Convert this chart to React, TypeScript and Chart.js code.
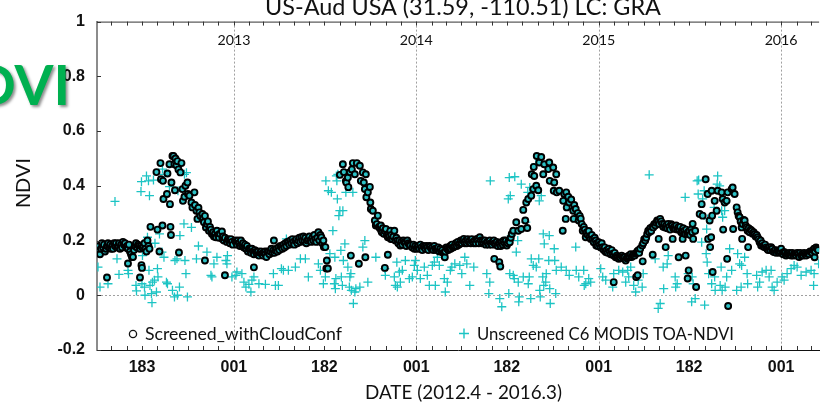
import React, { useEffect, useRef } from "react";
import { Chart, registerables } from "chart.js";

Chart.register(...registerables);

// x values: days since 2012-01-01 ; y values: NDVI
const xMin = 92;
const xMax = 1537;

const titleText = "US-Aud USA (31.59, -110.51) LC: GRA";
const xTitle = "DATE (2012.4 - 2016.3)";
const yTitle = "NDVI";
const legendScreened = "Screened_withCloudConf";
const legendUnscreened = "Unscreened C6 MODIS TOA-NDVI";

const xLabelDays = [182, 366, 547, 731, 912, 1096, 1277, 1461];
const xTickLabels = ["183", "001", "182", "001", "182", "001", "182", "001"];
const yearDays = [366, 731, 1096, 1461];
const yearLabels = ["2013", "2014", "2015", "2016"];
const yTicks = [-0.2, 0, 0.2, 0.4, 0.6, 0.8, 1];

const screened2012: number[][] = [
  [94,.16],[96,.18],[98,.15],[100,.17],[102,.19],[104,.175],[106,.185],[108,.16],[110,.17],[112,.18],[112,.065],[114,.19],[116,.175],[118,.185],[120,.17],[122,.18],[124,.17],[126,.19],[128,.18],[130,.19],[132,.175],[134,.18],[136,.19],[138,.17],[140,.185],[142,.175],[144,.195],[146,.185],[148,.19],[150,.175],[152,.18],[154,.17],[154,.116],[156,.185],[158,.16],[160,.15],[162,.14],[164,.14],[166,.165],[168,.18],[170,.19],[172,.175],[174,.185],[176,.18],[178,.17],[178,.065],[180,.18],[181,.11],[182,.1],[183,.175],[185,.18],[187,.19],[189,.17],[191,.16],[193,.2],[195,.18],[197,.17],[199,.25],[211,.45],[213,.24],[217,.16],[219,.483],[220,.424],[223,.255],[224,.418],[225,.352],[233,.445],[232,.37],[237,.479],[238,.333],[239,.25],[240,.22],[241,.412],[243,.509],[245,.509],[247,.479],[248,.384],[249,.5],[251,.475],[253,.49],[255,.46],[256,.156],[259,.449],[261,.483],[263,.388],[264,.345],[267,.36],[269,.4],[273,.412],[274,.37],[277,.364],[281,.339],[283,.321],[287,.376],[288,.33],[291,.309],[293,.279],[295,.32],[297,.303],[299,.29],[303,.297],[304,.28],[306,.267],[308,.29],[308,.127],[310,.248],[312,.26],[314,.27],[316,.236],[318,.25],[320,.24],[322,.224],[324,.23],[326,.215],[328,.225],[330,.212],[332,.236],[334,.22],[336,.21],[338,.225],[342,.233],[343,.206],[344,.215],[346,.2],[348,.21],[348,.073],[352,.195],[354,.205],[356,.2],[358,.19],[360,.205],[362,.195],[364,.185]
];

const screened2013: number[][] = [
  [368,.2],[370,.194],[372,.185],[374,.2],[376,.19],[378,.18],[380,.2],[382,.182],[384,.19],[386,.175],[388,.185],[390,.17],[392,.18],[394,.16],[396,.17],[398,.165],[400,.155],[402,.17],[404,.16],[406,.15],[406,.102],[408,.165],[410,.158],[412,.15],[414,.16],[416,.145],[418,.155],[420,.16],[422,.152],[424,.145],[426,.155],[428,.16],[429,.15],[431,.14],[433,.16],[435,.158],[437,.15],[439,.16],[441,.17],[443,.155],[445,.165],[446,.2],[447,.155],[449,.164],[451,.17],[453,.16],[455,.175],[457,.165],[459,.18],[461,.176],[463,.17],[465,.185],[467,.175],[469,.19],[471,.18],[473,.195],[475,.194],[477,.185],[479,.2],[481,.19],[483,.205],[485,.195],[487,.185],[489,.2],[491,.205],[493,.19],[495,.2],[497,.21],[499,.195],[501,.212],[503,.2],[505,.215],[507,.2],[509,.21],[511,.19],[513,.2],[515,.206],[517,.215],[519,.2],[521,.195],[523,.21],[525,.2],[527,.22],[529,.205],[531,.195],[533,.21],[535,.23],[537,.2],[539,.22],[541,.212],[543,.19],[545,.2],[546,.176],[549,.176],[551,.098],[552,.127],[554,.098],[578,.44],[584,.479],[586,.45],[590,.418],[591,.412],[594,.43],[595,.395],[598,.45],[600,.145],[602,.46],[604,.483],[608,.442],[612,.483],[616,.115],[618,.473],[620,.418],[624,.449],[626,.412],[628,.388],[629,.139],[630,.442],[631,.358],[634,.376],[638,.396],[639,.339],[640,.315],[644,.309],[648,.273],[650,.255],[652,.26],[654,.291],[656,.25],[658,.245],[660,.255],[661,.236],[662,.23],[664,.245],[666,.225],[668,.235],[668,.1],[670,.242],[672,.22],[674,.212],[674,.148],[676,.225],[677,.215],[679,.236],[680,.206],[681,.22],[683,.205],[685,.215],[687,.236],[689,.2],[691,.21],[693,.2],[695,.19],[697,.2],[699,.182],[701,.195],[703,.185],[705,.2],[707,.194],[709,.19],[711,.18],[713,.2],[715,.19],[717,.185],[719,.182],[723,.175],[725,.185],[727,.17],[729,.18]
];

const screened2014: number[][] = [
  [731,.17],[733,.176],[735,.18],[737,.17],[739,.185],[741,.175],[743,.165],[745,.18],[747,.176],[749,.17],[751,.18],[753,.175],[755,.165],[757,.18],[759,.178],[761,.17],[763,.175],[765,.165],[767,.18],[769,.17],[771,.165],[773,.17],[775,.175],[777,.16],[779,.17],[781,.16],[783,.165],[785,.155],[787,.152],[788,.139],[789,.16],[791,.175],[793,.17],[795,.165],[797,.17],[799,.18],[800,.17],[802,.185],[804,.175],[806,.176],[808,.18],[810,.19],[812,.18],[814,.195],[816,.185],[818,.19],[820,.2],[822,.19],[824,.2],[826,.206],[828,.19],[830,.2],[832,.19],[834,.205],[836,.195],[838,.2],[840,.19],[842,.205],[844,.195],[846,.19],[848,.2],[850,.19],[852,.206],[854,.2],[856,.19],[858,.212],[860,.2],[862,.19],[864,.2],[866,.19],[868,.2],[870,.185],[872,.194],[874,.195],[876,.185],[878,.2],[880,.19],[882,.185],[884,.195],[886,.2],[887,.133],[888,.19],[890,.185],[892,.195],[894,.18],[896,.19],[897,.121],[898,.188],[899,.105],[900,.18],[902,.195],[904,.185],[906,.2],[908,.19],[910,.2],[912,.182],[914,.19],[916,.2],[918,.194],[920,.21],[922,.224],[925,.236],[931,.267],[935,.236],[941,.242],[945,.312],[949,.273],[951,.339],[953,.246],[955,.352],[961,.364],[962,.442],[965,.388],[966,.469],[967,.436],[971,.4],[972,.509],[975,.384],[977,.485],[981,.505],[985,.442],[987,.479],[995,.461],[997,.485],[998,.418],[1005,.467],[1006,.382],[1007,.412],[1011,.442],[1012,.376],[1017,.382],[1024,.236],[1025,.345],[1027,.37],[1030,.279],[1031,.376],[1032,.321],[1035,.36],[1037,.339],[1041,.35],[1045,.309],[1046,.279],[1047,.33],[1050,.315],[1054,.3],[1056,.273],[1058,.29],[1060,.28],[1062,.26],[1064,.236],[1066,.25],[1068,.24],[1070,.212],[1072,.23],[1074,.22],[1076,.235],[1078,.215],[1080,.206],[1082,.22],[1084,.205],[1086,.194],[1088,.21],[1090,.2],[1091,.182],[1092,.19],[1094,.18]
];

const screened2015: number[][] = [
  [1096,.194],[1098,.185],[1100,.175],[1102,.19],[1104,.176],[1106,.165],[1108,.175],[1110,.158],[1112,.165],[1114,.155],[1116,.17],[1118,.16],[1120,.15],[1122,.165],[1124,.152],[1126,.145],[1126,.048],[1128,.155],[1130,.139],[1132,.145],[1134,.14],[1136,.133],[1138,.14],[1140,.135],[1142,.145],[1144,.139],[1146,.135],[1148,.14],[1150,.127],[1152,.135],[1154,.14],[1156,.145],[1158,.14],[1160,.15],[1162,.14],[1164,.145],[1166,.15],[1168,.145],[1170,.152],[1171,.067],[1172,.155],[1173,.16],[1174,.073],[1175,.164],[1177,.155],[1179,.17],[1183,.182],[1184,.124],[1185,.19],[1187,.205],[1189,.2],[1191,.21],[1193,.224],[1195,.236],[1197,.23],[1199,.245],[1201,.235],[1203,.25],[1204,.148],[1205,.248],[1207,.26],[1209,.255],[1211,.265],[1213,.273],[1215,.27],[1216,.206],[1217,.26],[1219,.279],[1221,.27],[1223,.261],[1225,.25],[1227,.26],[1229,.248],[1230,.176],[1231,.255],[1233,.245],[1235,.261],[1237,.25],[1239,.24],[1241,.26],[1243,.255],[1244,.206],[1245,.245],[1247,.25],[1249,.242],[1251,.255],[1253,.24],[1255,.248],[1256,.139],[1257,.24],[1259,.25],[1261,.23],[1263,.236],[1264,.206],[1265,.245],[1267,.235],[1269,.224],[1270,.145],[1271,.24],[1273,.225],[1274,.061],[1275,.23],[1276,.091],[1277,.235],[1279,.22],[1281,.24],[1283,.23],[1284,.261],[1285,.206],[1289,.236],[1291,.03],[1298,.297],[1302,.333],[1304,.291],[1310,.424],[1314,.37],[1315,.206],[1318,.273],[1319,.176],[1321,.212],[1322,.382],[1323,.291],[1324,.085],[1328,.345],[1332,.309],[1334,.382],[1342,.376],[1344,.352],[1345,.24],[1348,.339],[1352,.345],[1353,.133],[1354,.376],[1355,-.039],[1362,.388],[1364,.394],[1365,.242],[1368,.37],[1372,.321],[1374,.303],[1376,.29],[1378,.285],[1380,.27],[1382,.248],[1383,.206],[1384,.26],[1386,.275],[1388,.273],[1390,.255],[1392,.248],[1394,.236],[1395,.176],[1396,.245],[1398,.23],[1400,.24],[1402,.236],[1404,.225],[1406,.23],[1408,.224],[1410,.215],[1412,.22],[1414,.212],[1416,.205],[1418,.194],[1420,.2],[1421,.182],[1423,.19],[1425,.18],[1427,.176],[1429,.185],[1431,.175],[1433,.17],[1435,.165],[1437,.175],[1439,.165],[1441,.176],[1443,.17],[1445,.16],[1447,.158],[1449,.165],[1451,.155],[1453,.164],[1455,.16],[1457,.155],[1459,.16],[1461,.17],[1463,.155],[1465,.15],[1467,.158],[1469,.155],[1471,.145],[1473,.152],[1475,.15],[1477,.155],[1479,.15],[1481,.145],[1483,.155],[1485,.145],[1487,.152],[1489,.15],[1491,.145],[1493,.155],[1495,.15],[1497,.14],[1499,.155],[1501,.145],[1503,.15],[1505,.145],[1507,.155],[1509,.15],[1511,.145],[1513,.152],[1515,.155],[1517,.15],[1519,.16],[1521,.158],[1523,.155],[1525,.165],[1527,.17],[1528,.139],[1529,.16],[1531,.175],[1533,.17],[1535,.165]
];

const unscreened2012: number[][] = [
  [94,.103],[98,.03],[114,.042],[128,.343],[132,.133],[136,.076],[154,.091],[155,.079],[170,.036],[171,.016],[180,.379],[181,.415],[182,.042],[183,.145],[187,.03],[188,0],[191,.436],[193,.212],[195,.418],[196,.091],[197,.364],[198,.036],[201,.006],[202,-.027],[203,.048],[205,.421],[207,.055],[208,.19],[211,.012],[213,.097],[214,.067],[217,.224],[222,.158],[223,.461],[226,.139],[227,.442],[231,.048],[233,.042],[237,.397],[243,.018],[247,-.006],[248,.127],[252,.133],[253,0],[254,.382],[257,.03],[258,.218],[266,.261],[267,.442],[268,.127],[270,.079],[271,.448],[273,-.006],[281,.248],[291,.133],[295,.18],[312,.158],[320,.073],[322,.067],[326,.115],[332,.139],[350,.127],[352,.115],[353,.145],[362,.067]
];

const unscreened2013: number[][] = [
  [370,.073],[372,.085],[382,.079],[386,.048],[390,.03],[396,.04],[400,.012],[402,.055],[406,.067],[416,.042],[429,.04],[445,.079],[449,.036],[455,.036],[461,.097],[465,.091],[471,.206],[475,.091],[489,.103],[499,.133],[509,.133],[515,.067],[535,.115],[539,.091],[545,.042],[549,.067],[550,.418],[555,.382],[558,.152],[561,.376],[564,.236],[567,.042],[568,.139],[569,.024],[570,.061],[571,.436],[572,.418],[573,.352],[574,.442],[576,.291],[578,.309],[580,.164],[581,.067],[583,.036],[584,.309],[585,.127],[588,.188],[590,.376],[594,.103],[597,.03],[598,.067],[600,.079],[601,.018],[604,.376],[605,-.03],[608,.012],[610,.024],[618,.03],[624,.176],[628,.2],[634,.048],[650,.139],[668,.097],[669,.073],[687,.067],[689,.036],[692,.121],[693,.03],[697,.085],[699,.048],[703,.091],[709,.127],[717,.061],[723,.067],[727,.109],[729,.127]
];

const unscreened2014: number[][] = [
  [733,.091],[739,.061],[747,.103],[753,.073],[757,.036],[763,.109],[767,.121],[769,.036],[773,.139],[777,.109],[787,.061],[789,.012],[793,.048],[799,.091],[802,.103],[808,.115],[818,.109],[822,.079],[828,.139],[832,.115],[838,.036],[846,.103],[872,.079],[876,.006],[878,.048],[879,.418],[898,-.012],[902,-.042],[915,.352],[916,.006],[917,.43],[918,.079],[919,.364],[921,.218],[925,.073],[927,.061],[928,.433],[931,.158],[934,.2],[935,.048],[936,-.024],[937,-.006],[941,.406],[945,.067],[950,.267],[954,.376],[955,.042],[957,.067],[958,.394],[960,-.012],[961,.133],[965,.109],[970,.479],[971,.103],[976,.133],[977,.345],[978,.018],[979,-.006],[981,.364],[984,.067],[985,.224],[986,.036],[987,.188],[990,.048],[991,.079],[996,.127],[997,.218],[998,.024],[999,-.03],[1007,.17],[1008,.127],[1010,.006],[1011,.091],[1021,.103],[1031,.091],[1037,.073],[1050,.176],[1051,.091],[1056,.067],[1066,.091],[1067,.036],[1070,.042],[1076,.061],[1080,.048]
];

const unscreened2015: number[][] = [
  [1100,.097],[1104,.067],[1110,.055],[1124,.03],[1126,.079],[1136,.091],[1144,.085],[1150,.048],[1154,.091],[1156,.067],[1160,.103],[1166,.036],[1170,.012],[1175,.055],[1183,.03],[1185,.079],[1197,.44],[1209,.133],[1215,-.048],[1219,-.03],[1225,.103],[1226,.024],[1233,.115],[1235,.145],[1249,.067],[1250,.03],[1253,.042],[1269,.358],[1275,.079],[1282,-.024],[1283,.067],[1285,.042],[1289,-.012],[1293,.418],[1295,.37],[1296,.421],[1302,.194],[1304,.352],[1307,.382],[1308,-.036],[1311,.152],[1312,.242],[1313,.121],[1314,.279],[1316,.079],[1322,.042],[1327,.321],[1328,.067],[1329,.018],[1333,.406],[1334,.436],[1338,.4],[1339,.036],[1341,.103],[1342,.309],[1343,.018],[1344,.285],[1348,.309],[1349,.03],[1352,.067],[1358,.17],[1362,.091],[1372,.018],[1374,.152],[1378,.115],[1381,.03],[1382,.109],[1388,.139],[1393,.079],[1394,.042],[1412,.073],[1414,.03],[1418,.048],[1423,.085],[1431,.091],[1437,.067],[1441,.091],[1443,.03],[1447,.018],[1453,.048],[1463,.067],[1467,.055],[1473,.079],[1481,.097],[1487,.109],[1493,.103],[1501,.073],[1511,.085],[1521,.091],[1526,.036],[1527,.079],[1536,.115]
];

const CYAN = "#1cc4c4";
const tickFont = '"Liberation Sans", Arial, sans-serif';
const textFont = 'Lato, "Open Sans", sans-serif';

function monthTicks(): number[] {
  const out: number[] = [];
  const base = Date.UTC(2012, 0, 1);
  for (let y = 2012; y <= 2016; y++) {
    for (let m = 0; m < 12; m++) {
      const d = Math.round((Date.UTC(y, m, 1) - base) / 86400000);
      if (d > xMin && d < xMax) out.push(d);
    }
  }
  return out;
}

function fitFont(ctx: CanvasRenderingContext2D, text: string, weight: string, family: string, width: number) {
  ctx.font = `${weight} 100px ${family}`;
  const w = ctx.measureText(text).width;
  const size = (100 * width) / w;
  ctx.font = `${weight} ${size.toFixed(2)}px ${family}`;
}

const toPts = (arr: number[][]) => arr.map(([x, y]) => ({ x, y }));

export default function App() {
  const ref = useRef<HTMLCanvasElement | null>(null);

  useEffect(() => {
    if (!ref.current) return;
    const months = monthTicks();

    const decor = {
      id: "decor",
      beforeDatasetsDraw(chart: any) {
        const { ctx, chartArea: ca, scales } = chart;
        const x = scales.x, y = scales.y;
        ctx.save();
        ctx.strokeStyle = "#a0a0a0";
        ctx.lineWidth = 1;
        ctx.setLineDash([2, 2]);
        yearDays.forEach((d) => {
          const px = Math.round(x.getPixelForValue(d)) + 0.5;
          ctx.beginPath();
          ctx.moveTo(px, ca.top);
          ctx.lineTo(px, ca.bottom);
          ctx.stroke();
        });
        const y0 = Math.round(y.getPixelForValue(0)) + 0.5;
        ctx.beginPath();
        ctx.moveTo(ca.left, y0);
        ctx.lineTo(ca.right, y0);
        ctx.stroke();
        ctx.restore();
      },
      afterDraw(chart: any) {
        const { ctx, chartArea: ca, scales } = chart;
        const x = scales.x, y = scales.y;
        ctx.save();
        ctx.strokeStyle = "#333";
        ctx.lineWidth = 1;
        ctx.beginPath();
        ctx.moveTo(ca.left, ca.top + 0.5);
        ctx.lineTo(ca.right, ca.top + 0.5);
        ctx.stroke();
        months.forEach((d) => {
          const px = Math.round(x.getPixelForValue(d)) + 0.5;
          ctx.beginPath();
          ctx.moveTo(px, ca.bottom);
          ctx.lineTo(px, ca.bottom - 4);
          ctx.moveTo(px, ca.top);
          ctx.lineTo(px, ca.top + 4);
          ctx.stroke();
        });
        yTicks.forEach((v) => {
          const py = Math.round(y.getPixelForValue(v)) + 0.5;
          ctx.beginPath();
          ctx.moveTo(ca.left, py);
          ctx.lineTo(ca.left + 4, py);
          ctx.stroke();
        });
        ctx.fillStyle = "#111";
        ctx.textAlign = "center";
        ctx.textBaseline = "alphabetic";
        yearDays.forEach((d, i) => {
          fitFont(ctx, yearLabels[i], "normal", textFont, 33);
          ctx.fillText(yearLabels[i], x.getPixelForValue(d), ca.top + 23);
        });
        // legend
        ctx.textAlign = "left";
        ctx.beginPath();
        ctx.arc(133, 334, 3.6, 0, Math.PI * 2);
        ctx.fillStyle = "#fff";
        ctx.fill();
        ctx.strokeStyle = "#111";
        ctx.lineWidth = 1.3;
        ctx.stroke();
        ctx.fillStyle = "#111";
        fitFont(ctx, legendScreened, "normal", textFont, 197);
        ctx.fillText(legendScreened, 145, 340);
        ctx.strokeStyle = CYAN;
        ctx.lineWidth = 1.4;
        ctx.beginPath();
        ctx.moveTo(459, 333.5);
        ctx.lineTo(469, 333.5);
        ctx.moveTo(464, 328.5);
        ctx.lineTo(464, 338.5);
        ctx.stroke();
        fitFont(ctx, legendUnscreened, "normal", textFont, 257);
        ctx.fillText(legendUnscreened, 477, 340);
        // title
        ctx.textAlign = "center";
        fitFont(ctx, titleText, "normal", textFont, 396);
        ctx.fillText(titleText, 463, 15);
        // x title
        ctx.textAlign = "left";
        fitFont(ctx, xTitle, "normal", textFont, 197);
        ctx.fillText(xTitle, 365, 399);
        // y title
        ctx.save();
        ctx.translate(24, 183);
        ctx.rotate(-Math.PI / 2);
        ctx.textAlign = "center";
        ctx.textBaseline = "middle";
        ctx.font = '21px "Liberation Sans", Arial, sans-serif';
        ctx.fillText(yTitle, 0, 0);
        ctx.restore();
        // big green label
        ctx.save();
        ctx.shadowColor = "rgba(0,0,0,0.45)";
        ctx.shadowOffsetX = 2;
        ctx.shadowOffsetY = 2;
        ctx.shadowBlur = 3;
        ctx.fillStyle = "#00b050";
        ctx.textAlign = "right";
        ctx.textBaseline = "alphabetic";
        ctx.font = 'bold 56px Lato, "Open Sans", sans-serif';
        ctx.fillText("NDVI", 70, 105);
        ctx.restore();
        ctx.restore();
      },
    };

    const chart = new Chart(ref.current, {
      type: "scatter",
      data: {
        datasets: [
          {
            label: legendScreened,
            data: toPts([...screened2012, ...screened2013, ...screened2014, ...screened2015]),
            pointStyle: "circle",
            pointRadius: 3,
            pointBackgroundColor: "#2cc0c4",
            pointBorderColor: "#000",
            pointBorderWidth: 1.9,
          },
          {
            label: legendUnscreened,
            data: toPts([...unscreened2012, ...unscreened2013, ...unscreened2014, ...unscreened2015]),
            pointStyle: "cross",
            pointRadius: 4.5,
            pointBorderColor: CYAN,
            pointBackgroundColor: CYAN,
            pointBorderWidth: 1.3,
          },
        ],
      },
      options: {
        responsive: false,
        animation: false,
        events: [],
        layout: { padding: { top: 20, left: 0, right: 0, bottom: 0 } },
        plugins: {
          legend: { display: false },
          tooltip: { enabled: false },
          title: { display: false },
        },
        scales: {
          x: {
            type: "linear",
            min: xMin,
            max: xMax,
            grid: { display: false, drawTicks: false },
            border: { display: true, color: "#111", width: 1 },
            afterBuildTicks: (scale: any) => {
              scale.ticks = months.map((v) => ({ value: v }));
            },
            afterFit: (scale: any) => {
              scale.height = 55;
            },
            ticks: {
              autoSkip: false,
              maxRotation: 0,
              minRotation: 0,
              padding: 8,
              color: "#111",
              font: { family: tickFont, size: 16, weight: "bold" },
              callback: (value: any) => {
                const i = xLabelDays.indexOf(Number(value));
                return i >= 0 ? xTickLabels[i] : "";
              },
            },
          },
          y: {
            min: -0.2,
            max: 1,
            grid: { display: false, drawTicks: false },
            border: { display: true, color: "#8c8c8c", width: 2 },
            afterFit: (scale: any) => {
              scale.width = 97;
            },
            ticks: {
              stepSize: 0.2,
              padding: 12,
              color: "#111",
              font: { family: tickFont, size: 16, weight: "bold" },
              callback: (value: any) => String(Math.round(Number(value) * 10) / 10),
            },
          },
        },
      },
      plugins: [decor],
    });

    return () => chart.destroy();
  }, []);

  return (
    <div style={{ position: "fixed", left: 0, top: 0, width: 825, height: 405, background: "#fff" }}>
      <canvas ref={ref} width={825} height={405} />
    </div>
  );
}
